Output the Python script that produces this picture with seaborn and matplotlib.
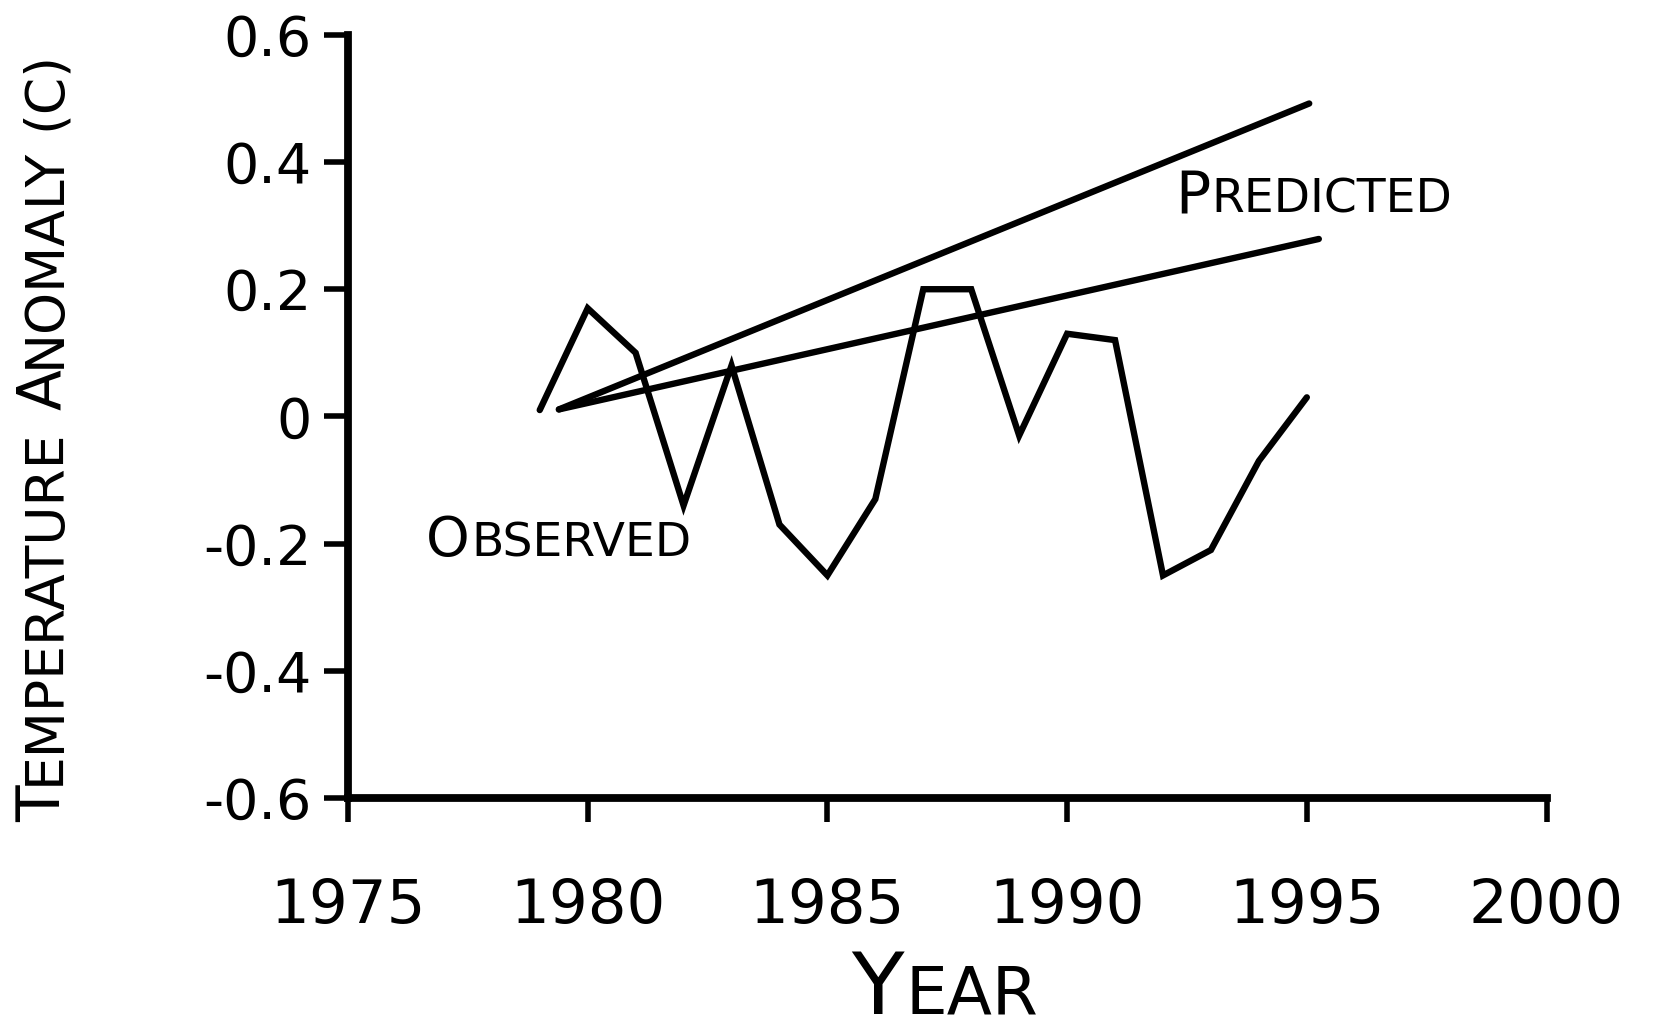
import matplotlib
matplotlib.use("Agg")
import matplotlib.pyplot as plt
from matplotlib.font_manager import FontProperties
from matplotlib.transforms import IdentityTransform
import seaborn as sns

# ---- data -------------------------------------------------------------
years = [1979, 1980, 1981, 1982, 1983, 1984, 1985, 1986, 1987,
         1988, 1989, 1990, 1991, 1992, 1993, 1994, 1995]
observed = [0.01, 0.17, 0.10, -0.14, 0.08, -0.17, -0.25, -0.13, 0.20,
            0.20, -0.03, 0.13, 0.12, -0.25, -0.21, -0.07, 0.03]

pred_high_years = [1979.4, 1995.05]
pred_high = [0.011, 0.492]
pred_low_years = [1979.4, 1995.25]
pred_low = [0.011, 0.279]

x_ticks = [1975, 1980, 1985, 1990, 1995, 2000]
x_tick_labels = ["1975", "1980", "1985", "1990", "1995", "2000"]
y_ticks = [-0.6, -0.4, -0.2, 0.0, 0.2, 0.4, 0.6]
y_tick_labels = ["-0.6", "-0.4", "-0.2", "0", "0.2", "0.4", "0.6"]

# ---- style ------------------------------------------------------------
FONT = "DejaVu Sans"
sns.set_style("ticks")
plt.rcParams["font.family"] = [FONT]
plt.rcParams["axes.unicode_minus"] = False

W, H, DPI = 1653, 1036, 100
fig = plt.figure(figsize=(W / DPI, H / DPI), dpi=DPI)
fig.patch.set_facecolor("white")
ax = fig.add_axes([0.2105, 0.2297, 0.7251, 0.7367])
ax.set_facecolor("white")

line_kw = dict(color="black", linewidth=4.6,
               solid_joinstyle="miter", solid_capstyle="round")
sns.lineplot(x=years, y=observed, ax=ax, **line_kw)
sns.lineplot(x=pred_high_years, y=pred_high, ax=ax, **line_kw)
sns.lineplot(x=pred_low_years, y=pred_low, ax=ax, **line_kw)

ax.set_xlim(1975, 2000)
ax.set_ylim(-0.6, 0.6)
ax.set_xticks(x_ticks, x_tick_labels)
ax.set_yticks(y_ticks, y_tick_labels)
ax.set_xlabel("")
ax.set_ylabel("")

for side in ["top", "right"]:
    ax.spines[side].set_visible(False)
for side in ["left", "bottom"]:
    ax.spines[side].set_linewidth(5.6)
    ax.spines[side].set_color("black")
    ax.spines[side].set_capstyle("projecting")

ax.tick_params(axis="both", direction="out", length=17, width=4.0,
               color="black", labelcolor="black")
ax.tick_params(axis="x", labelsize=44, pad=40)
ax.tick_params(axis="y", labelsize=40, pad=9)


# ---- small-caps text helper ------------------------------------------
def draw_small_caps(pieces, x0, y0, rotation=0, align="left"):
    """Draw a run of text pieces of different sizes sharing a baseline.

    pieces: list of (string, fontsize); a single " " means a word gap.
    x0, y0: display (pixel) coordinates of the run's start / centre.
    """
    renderer = fig.canvas.get_renderer()
    advances = []
    for s, size in pieces:
        fp = FontProperties(family=FONT, size=size)
        if s == " ":
            w1 = renderer.get_text_width_height_descent("x x", fp, ismath=False)[0]
            w2 = renderer.get_text_width_height_descent("xx", fp, ismath=False)[0]
            adv = w1 - w2
        else:
            w = renderer.get_text_width_height_descent(s, fp, ismath=False)[0]
            adv = w + 0.02 * size * DPI / 72.0
        advances.append(adv)
    total = sum(advances)
    if rotation == 0:
        cursor = x0 - total / 2 if align == "center" else x0
    else:
        cursor = y0 - total / 2 if align == "center" else y0
    for (s, size), adv in zip(pieces, advances):
        if s != " ":
            if rotation == 0:
                fig.text(cursor, y0, s, transform=IdentityTransform(),
                         fontsize=size, ha="left", va="baseline",
                         color="black", family=FONT)
            else:
                fig.text(x0, cursor, s, transform=IdentityTransform(),
                         fontsize=size, rotation=90, rotation_mode="anchor",
                         ha="left", va="baseline", color="black", family=FONT)
        cursor += adv


fig.canvas.draw()

# axis titles
draw_small_caps([("Y", 62), ("EAR", 47.5)], 945, 22, align="center")
draw_small_caps([("T", 43), ("EMPERATURE", 38.5), (" ", 38.5),
                 ("A", 43), ("NOMALY", 38.5), (" ", 38.5), ("(C)", 38.5)],
                60, H - 436, rotation=90, align="center")

# series labels, anchored in data coordinates
px, py = ax.transData.transform((1992.25, 0.32))
draw_small_caps([("P", 42), ("REDICTED", 34)], px, py)
ox, oy = ax.transData.transform((1976.63, -0.22))
draw_small_caps([("O", 40), ("BSERVED", 34)], ox, oy)

fig.savefig("out.png", dpi=DPI, facecolor="white")
